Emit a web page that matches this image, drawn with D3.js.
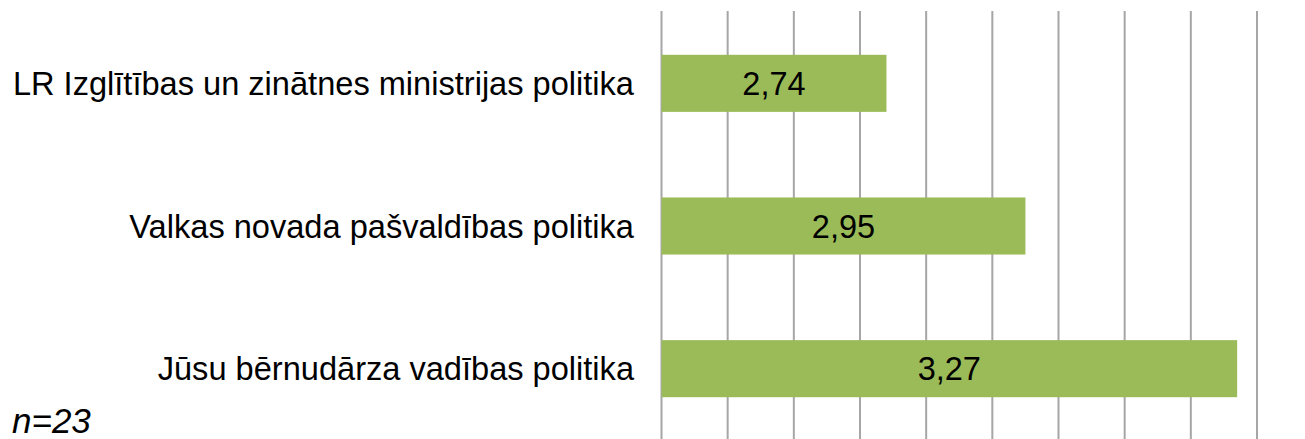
<!DOCTYPE html>
<html>
<head>
<meta charset="utf-8">
<script src="https://cdn.jsdelivr.net/npm/d3@7"></script>
<style>
    body { margin: 0; background: #fff; }
    svg text { font-family: Arial, "Liberation Sans", sans-serif; }
</style>
</head>
<body>
<div id="chart"></div>
<script>
var categories = ["LR Izglītības un zinātnes ministrijas politika", "Valkas novada pašvaldības politika", "Jūsu bērnudārza vadības politika"];
var values = [2.74, 2.95, 3.27];
var value_labels = ["2,74", "2,95", "3,27"];
var note = "n=23";

var w = 1305;
var h = 439;

var svg = d3.select("#chart").append("svg").attr("width", w).attr("height", h);

//xScale - axis starts at 2.4, one gridline each 0.1
var xScale = d3.scaleLinear().domain([2.4, 3.3]).range([661.5, 1257]);

//yScale
var yScale = d3.scaleBand().domain(d3.range(categories.length)).range([12, 440]).paddingInner(0.6).paddingOuter(0.3);

// gridlines
svg.append("g")
    .selectAll("line")
    .data(xScale.ticks(9))
    .enter()
    .append("line")
    .attr("x1", function (d) { return xScale(d); })
    .attr("x2", function (d) { return xScale(d); })
    .attr("y1", 11)
    .attr("y2", h)
    .attr("stroke", "#a6a6a6")
    .attr("stroke-width", 2);

// bars
svg.append("g")
    .selectAll("rect")
    .data(values)
    .enter()
    .append("rect")
    .attr("x", xScale(2.4))
    .attr("y", function (d, i) { return yScale(i); })
    .attr("width", function (d) { return xScale(d) - xScale(2.4); })
    .attr("height", yScale.bandwidth())
    .attr("fill", "#9bbb59");

// value labels
svg.append("g")
    .selectAll("text")
    .data(values)
    .enter()
    .append("text")
    .attr("x", function (d) { return (xScale(2.4) + xScale(d)) / 2; })
    .attr("y", function (d, i) { return yScale(i) + yScale.bandwidth() / 2; })
    .attr("dy", "0.36em")
    .attr("text-anchor", "middle")
    .attr("font-size", "32.5px")
    .attr("fill", "#000")
    .text(function (d, i) { return value_labels[i]; });

// category labels
svg.append("g")
    .selectAll("text")
    .data(categories)
    .enter()
    .append("text")
    .attr("x", 634)
    .attr("y", function (d, i) { return yScale(i) + yScale.bandwidth() / 2; })
    .attr("dy", "0.36em")
    .attr("text-anchor", "end")
    .attr("font-size", "32.6px")
    .attr("fill", "#000")
    .text(function (d) { return d; });

svg.append("text")
    .attr("x", 12)
    .attr("y", 433)
    .attr("font-size", "35px")
    .attr("font-style", "italic")
    .attr("fill", "#000")
    .text(note);
</script>
</body>
</html>
